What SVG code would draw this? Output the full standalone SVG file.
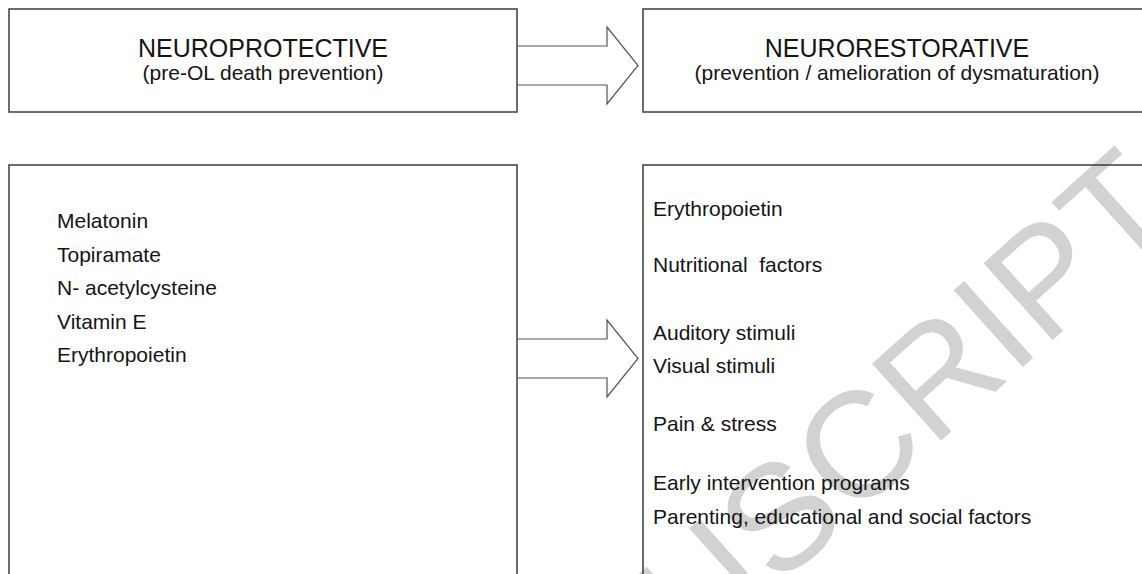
<svg xmlns="http://www.w3.org/2000/svg" width="1142" height="574" viewBox="0 0 1142 574">
<style>
.box{fill:none;stroke:#3c3c3c;stroke-width:1.5}
.arr{fill:none;stroke:#555;stroke-width:1.2;stroke-linejoin:miter}
.t{font-family:"Liberation Sans",Arial,sans-serif;fill:#141414}
.h1{font-size:25px;text-anchor:middle}
.h2{font-size:21px;text-anchor:middle}
.li{font-size:21px}
.wm{font-family:"Liberation Sans",Arial,sans-serif;font-size:150px;fill:#d2d2d2}
</style>
<rect width="1142" height="574" fill="#fff"/>
<g id="watermark">
<text class="wm" transform="translate(1186,220) rotate(-42)" text-anchor="end">MANUSCRIPT</text>
</g>
<g id="neuroprotective-header">
<rect class="box" x="9" y="9" width="508" height="103"/>
<text class="t h1" x="263" y="57">NEUROPROTECTIVE</text>
<text class="t h2" x="263" y="80">(pre-OL death prevention)</text>
</g>
<g id="neurorestorative-header">
<rect class="box" x="643" y="9" width="510" height="103"/>
<text class="t h1" x="897" y="57">NEURORESTORATIVE</text>
<text class="t h2" x="897" y="80">(prevention / amelioration of dysmaturation)</text>
</g>
<g id="neuroprotective-list">
<rect class="box" x="9" y="165" width="508" height="420"/>
<text class="t li" x="57" y="228">Melatonin</text>
<text class="t li" x="57" y="261.5">Topiramate</text>
<text class="t li" x="57" y="295">N- acetylcysteine</text>
<text class="t li" x="57" y="328.5">Vitamin E</text>
<text class="t li" x="57" y="362">Erythropoietin</text>
</g>
<g id="neurorestorative-list">
<rect class="box" x="643" y="165" width="510" height="420"/>
<text class="t li" x="653" y="216">Erythropoietin</text>
<text class="t li" x="653" y="272" xml:space="preserve">Nutritional  factors</text>
<text class="t li" x="653" y="340">Auditory stimuli</text>
<text class="t li" x="653" y="373">Visual stimuli</text>
<text class="t li" x="653" y="431">Pain &amp; stress</text>
<text class="t li" x="653" y="490">Early intervention programs</text>
<text class="t li" x="653" y="524">Parenting, educational and social factors</text>
</g>
<g id="connectors">
<path class="arr" d="M517,46 H607 V27 L638,65.5 L607,104 V85 H517"/>
<path class="arr" d="M517,339 H607 V320 L638,358.5 L607,397 V378 H517"/>
</g>
</svg>
